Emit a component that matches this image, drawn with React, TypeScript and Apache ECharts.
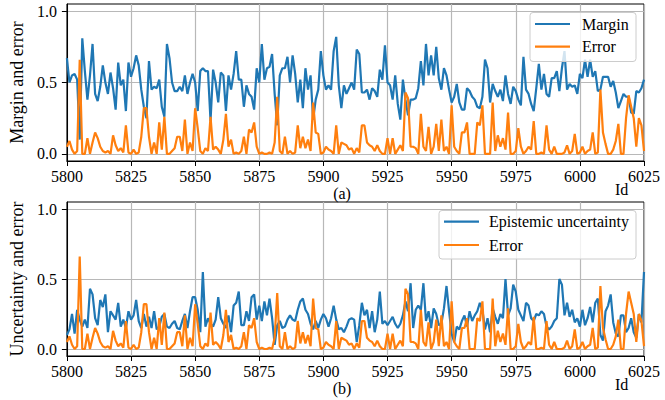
import React, { useEffect, useRef } from "react";
import * as echarts from "echarts";

const ID_START = 5800;
const ID_END = 6025;
const X_STEP = 25;
const Y_TICKS = [0, 0.5, 1];

const margin = [
  0.67, 0.5, 0.55, 0.56, 0.52, 0.1, 0.81, 0.58, 0.38, 0.55,
  0.77, 0.42, 0.37, 0.47, 0.62, 0.5, 0.42, 0.57, 0.46, 0.31,
  0.64, 0.48, 0.52, 0.3, 0.64, 0.54, 0.6, 0.69, 0.62, 0.45,
  0.33, 0.25, 0.65, 0.45, 0.47, 0.46, 0.52, 0.33, 0.26, 0.77,
  0.67, 0.5, 0.44, 0.44, 0.47, 0.44, 0.55, 0.42, 0.5, 0.56,
  0.5, 0.3, 0.58, 0.6, 0.58, 0.58, 0.23, 0.59, 0.5, 0.36,
  0.57, 0.55, 0.3, 0.55, 0.45, 0.56, 0.72, 0.52, 0.52, 0.33,
  0.48, 0.42, 0.4, 0.31, 0.6, 0.5, 0.77, 0.52, 0.6, 0.61,
  0.7, 0.42, 0.2, 0.55, 0.6, 0.6, 0.68, 0.5, 0.69, 0.56,
  0.36, 0.52, 0.32, 0.6, 0.45, 0.55, 0.24, 0.38, 0.45, 0.72,
  0.55, 0.45, 0.48, 0.45, 0.72, 0.82, 0.48, 0.32, 0.48, 0.42,
  0.46, 0.5, 0.45, 0.73, 0.7, 0.43, 0.43, 0.45, 0.38, 0.46,
  0.44, 0.4, 0.59, 0.52, 0.76, 0.5, 0.48, 0.38, 0.55, 0.35,
  0.24, 0.52, 0.38, 0.27, 0.38, 0.38, 0.39, 0.46, 0.65, 0.48,
  0.77, 0.55, 0.69, 0.55, 0.75, 0.53, 0.45, 0.6, 0.55, 0.45,
  0.36, 0.4, 0.49, 0.36, 0.31, 0.31, 0.46, 0.44, 0.4, 0.38,
  0.33, 0.32, 0.4, 0.66, 0.6, 0.36, 0.49, 0.44, 0.4, 0.45,
  0.37, 0.55, 0.42, 0.35, 0.47, 0.44, 0.38, 0.34, 0.68, 0.45,
  0.42, 0.35, 0.3, 0.46, 0.63, 0.45, 0.56, 0.42, 0.4, 0.53,
  0.53, 0.58, 0.44, 0.6, 0.72, 0.45, 0.49, 0.47, 0.48, 0.42,
  0.56, 0.53, 0.66, 0.54, 0.66, 0.54, 0.58, 0.44, 0.45, 0.54,
  0.54, 0.54, 0.47, 0.51, 0.43, 0.32, 0.37, 0.42, 0.4, 0.4,
  0.29, 0.28, 0.44, 0.43, 0.46, 0.52,
];

const error = [
  0.05, 0.09, 0.03, 0.0, 0.02, 0.66, 0.0, 0.0, 0.11, 0.0,
  0.08, 0.15, 0.11, 0.05, 0.02, 0.01, 0.02, 0.0, 0.13, 0.06,
  0.02, 0.04, 0.01, 0.2, 0.01, 0.0, 0.03, 0.0, 0.01, 0.12,
  0.32, 0.32, 0.12, 0.0, 0.08, 0.0, 0.22, 0.03, 0.26, 0.0,
  0.0, 0.02, 0.04, 0.12, 0.12, 0.02, 0.24, 0.0, 0.08, 0.02,
  0.32, 0.18, 0.02, 0.0, 0.04, 0.02, 0.26, 0.03, 0.05, 0.03,
  0.0, 0.1, 0.28, 0.05, 0.1, 0.0, 0.01, 0.0, 0.02, 0.12,
  0.0, 0.17, 0.15, 0.22, 0.05, 0.0, 0.01, 0.0, 0.0, 0.01,
  0.0, 0.08, 0.4, 0.02, 0.0, 0.12, 0.0, 0.02, 0.0, 0.01,
  0.2, 0.04, 0.12, 0.04, 0.1, 0.02, 0.36, 0.15, 0.14, 0.0,
  0.01, 0.05, 0.03, 0.02, 0.0, 0.2, 0.0, 0.08, 0.07, 0.06,
  0.03, 0.04, 0.0, 0.04, 0.01, 0.2, 0.2, 0.08, 0.06, 0.05,
  0.02, 0.06, 0.02, 0.0, 0.0, 0.11, 0.0, 0.11, 0.0, 0.03,
  0.06, 0.02, 0.43, 0.39, 0.05, 0.05, 0.04, 0.0, 0.28, 0.05,
  0.02, 0.19, 0.0, 0.05, 0.21, 0.02, 0.24, 0.02, 0.05, 0.0,
  0.34, 0.05, 0.02, 0.0, 0.15, 0.15, 0.22, 0.0, 0.0, 0.0,
  0.22, 0.2, 0.34, 0.0, 0.0, 0.0, 0.36, 0.02, 0.13, 0.05,
  0.11, 0.03, 0.29, 0.0, 0.0, 0.02, 0.18, 0.05, 0.0, 0.02,
  0.05, 0.03, 0.23, 0.0, 0.0, 0.01, 0.0, 0.2, 0.03, 0.0,
  0.05, 0.0, 0.0, 0.0, 0.01, 0.06, 0.0, 0.02, 0.14, 0.0,
  0.01, 0.05, 0.0, 0.02, 0.03, 0.15, 0.0, 0.01, 0.45, 0.15,
  0.07, 0.0, 0.0, 0.03, 0.09, 0.21, 0.0, 0.0, 0.25, 0.41,
  0.33, 0.25, 0.05, 0.25, 0.2, 0.02,
];

const epistemic = [
  0.1, 0.14, 0.25, 0.11, 0.28, 0.21, 0.16, 0.21, 0.15, 0.43,
  0.39, 0.22, 0.17, 0.35, 0.3, 0.39, 0.12, 0.27, 0.24, 0.21,
  0.33, 0.16, 0.21, 0.15, 0.27, 0.21, 0.24, 0.35, 0.2, 0.15,
  0.25, 0.16, 0.23, 0.15, 0.27, 0.14, 0.16, 0.23, 0.25, 0.16,
  0.15, 0.18, 0.2, 0.15, 0.14, 0.2, 0.25, 0.15, 0.27, 0.37,
  0.37, 0.28, 0.12, 0.55, 0.16, 0.22, 0.18, 0.16, 0.21, 0.37,
  0.22, 0.18, 0.15, 0.24, 0.12, 0.31, 0.33, 0.41, 0.17, 0.17,
  0.27, 0.2, 0.37, 0.39, 0.21, 0.31, 0.2, 0.34, 0.24, 0.36,
  0.22, 0.03, 0.17, 0.2, 0.15, 0.16, 0.21, 0.24, 0.21, 0.2,
  0.28, 0.34, 0.36, 0.28, 0.25, 0.18, 0.14, 0.2, 0.15, 0.21,
  0.25, 0.22, 0.16, 0.22, 0.31, 0.21, 0.14, 0.15, 0.12, 0.16,
  0.21, 0.22, 0.21, 0.05, 0.17, 0.33, 0.24, 0.28, 0.15, 0.27,
  0.12, 0.21, 0.41, 0.18, 0.2, 0.17, 0.2, 0.23, 0.18, 0.15,
  0.18, 0.24, 0.34, 0.27, 0.47, 0.15, 0.28, 0.31, 0.28, 0.47,
  0.2, 0.27, 0.15, 0.29, 0.25, 0.17, 0.18, 0.29, 0.45, 0.27,
  0.11, 0.05, 0.16, 0.14, 0.2, 0.24, 0.16, 0.27, 0.2, 0.24,
  0.27, 0.33, 0.28, 0.14, 0.22, 0.12, 0.29, 0.23, 0.18, 0.25,
  0.22, 0.5, 0.24, 0.29, 0.46, 0.41, 0.28, 0.24, 0.2, 0.33,
  0.31, 0.22, 0.2, 0.25, 0.24, 0.27, 0.25, 0.16, 0.14, 0.16,
  0.2, 0.22, 0.5, 0.46, 0.24, 0.33, 0.23, 0.28, 0.19, 0.22,
  0.16, 0.28, 0.17, 0.22, 0.3, 0.19, 0.33, 0.36, 0.1, 0.06,
  0.27, 0.31, 0.39, 0.19, 0.11, 0.09, 0.24, 0.24, 0.12, 0.15,
  0.22, 0.12, 0.08, 0.25, 0.19, 0.55,
];

const BLUE = "#1f77b4";
const ORANGE = "#ff7f0e";
const FONT = "Liberation Serif";

const toPairs = (vals: number[]) => vals.map((v, i) => [ID_START + i, v]);

const richLabel = {
  t: { color: "#000", fontSize: 16, fontFamily: FONT, fontWeight: "normal" },
};

function xAxisFor(gridIndex: number) {
  return {
    type: "value",
    gridIndex,
    min: ID_START,
    max: ID_END,
    interval: X_STEP,
    axisLine: { show: true, onZero: false, lineStyle: { color: "#000", width: 1 } },
    axisTick: { show: true, inside: false, length: 5, lineStyle: { color: "#000", width: 1 } },
    axisLabel: {
      color: "#000",
      fontSize: 16,
      fontFamily: FONT,
      margin: 7,
      showMinLabel: true,
      showMaxLabel: true,
      hideOverlap: false,
      formatter: (v: number) => "{t|" + String(Math.round(v)) + "}",
      rich: richLabel,
    },
    splitLine: { show: true, lineStyle: { color: "#b8b8b8", width: 1.2 } },
  };
}

function yAxisFor(gridIndex: number, name: string) {
  return {
    type: "value",
    gridIndex,
    min: -0.05,
    max: 1.05,
    splitNumber: 2,
    name,
    nameLocation: "middle",
    nameGap: 34,
    nameTextStyle: { color: "#000", fontSize: 18, fontFamily: FONT },
    axisLine: { show: true, onZero: false, lineStyle: { color: "#000", width: 1 } },
    axisTick: {
      show: true,
      inside: false,
      length: 5,
      customValues: Y_TICKS,
      lineStyle: { color: "#000", width: 1 },
    },
    axisLabel: {
      color: "#000",
      fontSize: 16,
      fontFamily: FONT,
      margin: 10,
      customValues: Y_TICKS,
      formatter: (v: number) => "{t|" + v.toFixed(1) + "}",
      rich: richLabel,
    },
    splitLine: { show: true, lineStyle: { color: "#b8b8b8", width: 1.2 } },
  };
}

function legendBox(x: number, y: number, w: number, h: number, lineX: number, textX: number, y1: number, y2: number, label1: string) {
  return [
    {
      type: "rect",
      z: 100,
      shape: { x, y, width: w, height: h, r: 3 },
      style: { fill: "rgba(255,255,255,0.8)", stroke: "#cccccc", lineWidth: 1 },
    },
    {
      type: "line",
      z: 101,
      shape: { x1: lineX, y1, x2: lineX + 35, y2: y1 },
      style: { stroke: BLUE, lineWidth: 2.2 },
    },
    {
      type: "text",
      z: 101,
      x: textX,
      y: y1,
      style: { text: label1, fontSize: 16, fontFamily: FONT, fill: "#000", verticalAlign: "middle", align: "left" },
    },
    {
      type: "line",
      z: 101,
      shape: { x1: lineX, y1: y2, x2: lineX + 35, y2 },
      style: { stroke: ORANGE, lineWidth: 2.2 },
    },
    {
      type: "text",
      z: 101,
      x: textX,
      y: y2,
      style: { text: "Error", fontSize: 16, fontFamily: FONT, fill: "#000", verticalAlign: "middle", align: "left" },
    },
  ];
}

function plainText(text: string, x: number, y: number, align: string) {
  return {
    type: "text",
    z: 101,
    x,
    y,
    style: { text, fontSize: 16, fontFamily: FONT, fill: "#000", verticalAlign: "middle", align },
  };
}

export default function App() {
  const ref = useRef<HTMLDivElement>(null);

  useEffect(() => {
    if (!ref.current) return;
    const chart = echarts.init(ref.current, null, { renderer: "svg" });
    const lineSeries = (name: string, data: number[], color: string, idx: number) => ({
      name,
      type: "line",
      xAxisIndex: idx,
      yAxisIndex: idx,
      data: toPairs(data),
      showSymbol: false,
      symbol: "none",
      lineStyle: { color, width: 2.2 },
      itemStyle: { color },
      emphasis: { disabled: true },
    });
    chart.setOption({
      animation: false,
      backgroundColor: "#fff",
      textStyle: { fontFamily: FONT, color: "#000" },
      grid: [
        { left: 54, top: 4, width: 590, height: 157, show: true, borderColor: "#000", borderWidth: 1, backgroundColor: "transparent" },
        { left: 54, top: 202, width: 590, height: 154, show: true, borderColor: "#000", borderWidth: 1, backgroundColor: "transparent" },
      ],
      xAxis: [xAxisFor(0), xAxisFor(1)],
      yAxis: [yAxisFor(0, "Margin and error"), yAxisFor(1, "Uncertainty and error")],
      series: [
        lineSeries("Margin", margin, BLUE, 0),
        lineSeries("Error", error, ORANGE, 0),
        lineSeries("Epistemic uncertainty", epistemic, BLUE, 1),
        lineSeries("Error", error, ORANGE, 1),
      ],
      graphic: [
        ...legendBox(530, 12.5, 106, 49, 535, 582, 24, 46.7, "Margin"),
        ...legendBox(439, 210.5, 197, 48.5, 444, 489, 221.7, 245, "Epistemic uncertainty"),
        plainText("(a)", 342, 193, "center"),
        plainText("Id", 615, 189, "left"),
        plainText("(b)", 342, 388, "center"),
        plainText("Id", 615, 384, "left"),
      ],
    });
    return () => chart.dispose();
  }, []);

  return (
    <div
      ref={ref}
      style={{ position: "fixed", left: 0, top: 0, width: 665, height: 400 }}
    />
  );
}
